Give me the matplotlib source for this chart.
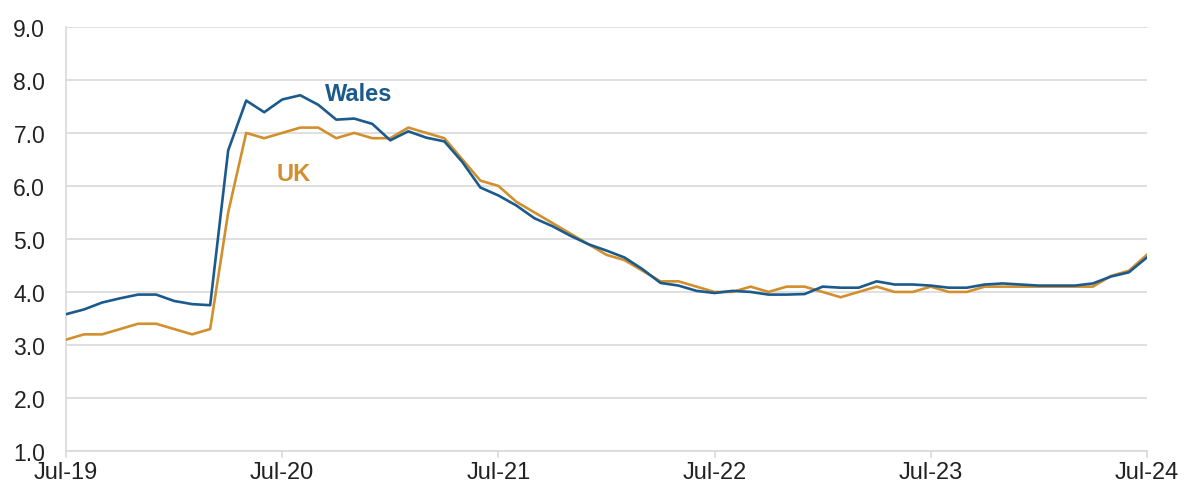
import numpy as np
import pandas as pd
import matplotlib.pyplot as plt

# monthly rates, Jul-19 .. Jul-24
months = pd.date_range("2019-07-01", "2024-07-01", freq="MS")

wales = [3.58, 3.67, 3.80, 3.88, 3.95, 3.95, 3.83, 3.77, 3.75, 6.67,
         7.61, 7.39, 7.63, 7.71, 7.53, 7.25, 7.27, 7.17, 6.86, 7.03,
         6.91, 6.84, 6.45, 5.97, 5.82, 5.63, 5.39, 5.24, 5.06, 4.90,
         4.78, 4.65, 4.43, 4.17, 4.12, 4.02, 3.98, 4.02, 4.00, 3.95,
         3.95, 3.96, 4.10, 4.08, 4.08, 4.20, 4.14, 4.14, 4.12, 4.08,
         4.08, 4.14, 4.16, 4.14, 4.12, 4.12, 4.12, 4.16, 4.29, 4.37,
         4.65]
uk = [3.1, 3.2, 3.2, 3.3, 3.4, 3.4, 3.3, 3.2, 3.3, 5.5,
      7.0, 6.9, 7.0, 7.1, 7.1, 6.9, 7.0, 6.9, 6.9, 7.1,
      7.0, 6.9, 6.5, 6.1, 6.0, 5.7, 5.5, 5.3, 5.1, 4.9,
      4.7, 4.6, 4.4, 4.2, 4.2, 4.1, 4.0, 4.0, 4.1, 4.0,
      4.1, 4.1, 4.0, 3.9, 4.0, 4.1, 4.0, 4.0, 4.1, 4.0,
      4.0, 4.1, 4.1, 4.1, 4.1, 4.1, 4.1, 4.1, 4.3, 4.4,
      4.7]
tick_labels = ["Jul-19", "Jul-20", "Jul-21", "Jul-22", "Jul-23", "Jul-24"]

blue = "#1a5a8c"
gold = "#d28f2e"
grid = "#d9d9d9"

plt.rcParams['font.family'] = ['Liberation Sans', 'DejaVu Sans']

fig = plt.figure(figsize=(11.86, 4.89), dpi=100)
ax = fig.add_axes([0.0557, 0.0757, 0.9113, 0.8673])

x = np.arange(len(months))
ax.plot(x, uk, color=gold, lw=1.9, zorder=3)
ax.plot(x, wales, color=blue, lw=1.9, zorder=4)

ax.set_xlim(0, 60)
ax.set_ylim(1, 9)
ax.set_yticks(np.arange(1, 10, 1))
ax.set_yticklabels(["%.1f" % v for v in np.arange(1, 10, 1)])
ax.set_xticks(np.arange(0, 61, 12))
ax.set_xticklabels(tick_labels)

ax.grid(axis="y", color=grid, lw=1.2)
ax.set_axisbelow(True)
for s in ["top", "right"]:
    ax.spines[s].set_visible(False)
for s in ["left", "bottom"]:
    ax.spines[s].set_color(grid)
    ax.spines[s].set_linewidth(1.2)

ax.tick_params(axis="y", length=0, labelsize=16.5, pad=15, colors="#222222")
ax.tick_params(axis="x", length=5, width=1.2, color=grid, labelsize=17,
               pad=2, labelcolor="#222222")

ax.text(14.4, 7.74, "Wales", color=blue, fontsize=17, fontweight="bold",
        va="center")
ax.text(11.7, 6.23, "UK", color=gold, fontsize=17, fontweight="bold",
        va="center")

fig.savefig("out.png", dpi=100)
